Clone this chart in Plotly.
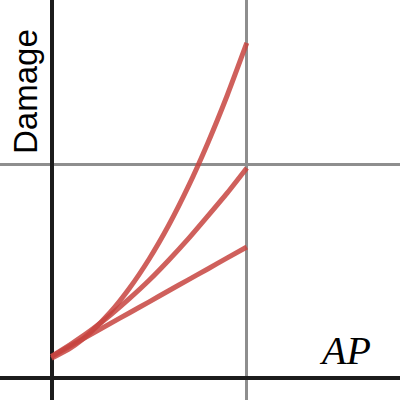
import plotly.graph_objects as go

# AP values (x) and damage for three growth curves
ap = [0.0, 0.1, 0.2, 0.3, 0.4, 0.5, 0.6, 0.7, 0.8, 0.9, 1.0]
damage_linear = [0.098, 0.150, 0.201, 0.253, 0.304, 0.355, 0.407, 0.458, 0.509, 0.561, 0.612]
damage_middle = [0.099, 0.157, 0.220, 0.292, 0.371, 0.456, 0.550, 0.650, 0.757, 0.866, 0.983]
damage_top = [0.090, 0.140, 0.212, 0.305, 0.420, 0.556, 0.714, 0.895, 1.099, 1.324, 1.569]

x_label = "AP"
y_label = "Damage"

red = "rgba(199,68,64,0.85)"

fig = go.Figure()
for ys in (damage_linear, damage_middle, damage_top):
    fig.add_trace(go.Scatter(x=ap, y=ys, mode="lines", line=dict(color=red, width=5, shape="spline", smoothing=0.6),
                             hoverinfo="skip", showlegend=False))

xmin, xmax = -51.5 / 195.3, 348.5 / 195.3
ymin, ymax = -22.5 / 213.2, 377.5 / 213.2

fig.update_layout(
    width=400, height=400,
    margin=dict(l=0, r=0, t=0, b=0),
    paper_bgcolor="white", plot_bgcolor="white",
    showlegend=False,
    xaxis=dict(range=[xmin, xmax], tickvals=[1], showticklabels=False, ticks="",
               showgrid=True, gridcolor="#8e8e8e", gridwidth=2.5,
               zeroline=True, zerolinecolor="#1c1c1c", zerolinewidth=3.5, showline=False, fixedrange=True),
    yaxis=dict(range=[ymin, ymax], tickvals=[1], showticklabels=False, ticks="",
               showgrid=True, gridcolor="#8e8e8e", gridwidth=2.5,
               zeroline=True, zerolinecolor="#1c1c1c", zerolinewidth=3.5, showline=False, fixedrange=True),
    annotations=[
        dict(x=(25 - 51.5) / 195.3, y=(377.5 - 92) / 213.2, xref="x", yref="y", text=y_label,
             textangle=-90, showarrow=False, font=dict(family="Liberation Sans, Arial", size=33, color="black")),
        dict(x=(345 - 51.5) / 195.3, y=(377.5 - 350) / 213.2, xref="x", yref="y", text="<i>" + x_label + "</i>",
             showarrow=False, font=dict(family="Liberation Serif, Times New Roman", size=40, color="black")),
    ],
)

fig.write_html("out.html", config={"displayModeBar": False},
               post_script="document.body.style.margin='0';document.body.style.overflow='hidden';")
